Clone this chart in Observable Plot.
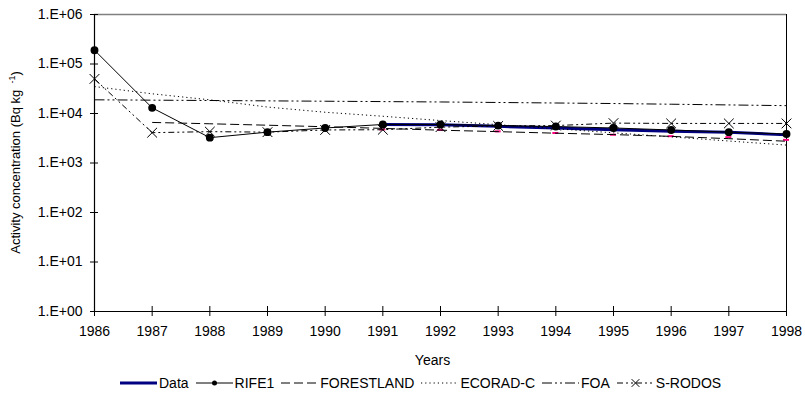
<!DOCTYPE html>
<html>
<head>
<meta charset="utf-8">
<script src="https://cdn.jsdelivr.net/npm/d3@7"></script>
<script src="https://cdn.jsdelivr.net/npm/@observablehq/plot@0.6"></script>
<style>
  html, body { margin: 0; padding: 0; background: #fff; }
  #chart { width: 805px; }
  #legend {
    display: flex; align-items: center; height: 22px; padding-left: 120px;
    font-family: "Liberation Sans", Arial, sans-serif; font-size: 14px; color: #000;
  }
  #legend .item { display: flex; align-items: center; }
  #legend span { margin: 0 7px 0 2px; white-space: nowrap; }
</style>
</head>
<body>
<div id="chart"></div>
<div id="legend"></div>
<script>
// Years on the x axis
const years = [1986, 1987, 1988, 1989, 1990, 1991, 1992, 1993, 1994, 1995, 1996, 1997, 1998];

// Activity concentration (Bq/kg), one value per year (null = no value)
const data       = [null, null, null, null, null, 6000, 5900, 5500, 5100, 4700, 4400, 4200, 3700];
const rife1      = [190000, 13000, 3250, 4200, 5100, 6000, 6000, 5700, 5450, 5100, 4650, 4200, 3850];
const forestland = [null, 6600, 6200, 5800, 5400, 5000, 4600, 4300, 4000, 3750, 3450, 3100, 2750];
const ecoradC    = [35000, 25000, 18900, 13500, 10600, 8800, 7200, 5950, 4920, 4070, 3370, 2780, 2300];
const foa        = [18900, 18600, 18300, 18000, 17700, 17400, 17100, 16700, 16300, 15900, 15400, 14900, 14400];
const sRodos     = [50000, 4100, 4300, 4200, 4650, 4700, 5300, 5600, 5700, 6400, 6300, 6300, 6300];

// Axis ticks
const yTicks = [1, 10, 100, 1000, 10000, 100000, 1000000];
const yTickLabels = ["1.E+00", "1.E+01", "1.E+02", "1.E+03", "1.E+04", "1.E+05", "1.E+06"];

const rows = (vals) => years.map((year, i) => ({year, value: vals[i]})).filter(d => d.value != null);

// Series styles shared by the chart and the legend
const series = [
  {name: "Data",       rows: rows(data),       stroke: "#000080", width: 3, dash: null},
  {name: "RIFE1",      rows: rows(rife1),      stroke: "#000", width: 1, dash: null, marker: "circle"},
  {name: "FORESTLAND", rows: rows(forestland), stroke: "#000", width: 1, dash: "9,4"},
  {name: "ECORAD-C",   rows: rows(ecoradC),    stroke: "#000", width: 1, dash: "1.2,3"},
  {name: "FOA",        rows: rows(foa),        stroke: "#000", width: 1, dash: "10,3,2,3,2,3"},
  {name: "S-RODOS",    rows: rows(sRodos),     stroke: "#000", width: 1, dash: "6,3,2,3,2,3", marker: "times"}
];

const lineMarks = series.map(s => Plot.line(s.rows, {
  x: "year", y: "value", stroke: s.stroke, strokeWidth: s.width,
  strokeDasharray: s.dash, strokeLinecap: s.dash ? "butt" : "round", strokeLinejoin: "round"
}));

const chart = Plot.plot({
  width: 805,
  height: 372,
  marginLeft: 94,
  marginRight: 19,
  marginTop: 14,
  marginBottom: 61,
  x: {domain: [1986, 1998]},
  y: {type: "log", domain: [1, 1e6]},
  style: {fontFamily: "'Liberation Sans', Arial, sans-serif", fontSize: "14px", color: "#000", background: "#fff", overflow: "visible"},
  marks: [
    // plot area border
    Plot.ruleY([1e6], {stroke: "#808080", strokeWidth: 1.5}),
    Plot.ruleX([1998], {stroke: "#000"}),
    Plot.ruleX([1986], {stroke: "#000", strokeWidth: 1.2}),
    Plot.ruleY([1], {stroke: "#000", strokeWidth: 1.2}),
    // tick marks crossing the axes
    Plot.ruleY(yTicks, {y: d => d, x1: 1986, x2: 1986, insetLeft: -4, insetRight: -4, stroke: "#000"}),
    Plot.ruleX(years, {x: d => d, y1: 1, y2: 1, insetTop: -5, insetBottom: -5, stroke: "#000"}),
    Plot.axisY(yTicks, {tickSize: 0, tickPadding: 12, tickFormat: d => yTickLabels[yTicks.indexOf(d)], label: null}),
    Plot.axisX(years, {tickSize: 0, tickPadding: 15, tickFormat: d => String(d), label: null}),
    Plot.text(["Years"], {frameAnchor: "bottom", dx: -8, dy: 53}),
    lineMarks[0],
    // Data markers
    Plot.ruleY(series[0].rows, {y: "value", x1: "year", x2: "year", insetLeft: -3, insetRight: -3, dy: 5, stroke: "#ff0080", strokeWidth: 2}),
    ...lineMarks.slice(1),
    Plot.dot(series[1].rows, {x: "year", y: "value", r: 3.2, fill: "#000", stroke: "#000"}),
    Plot.dot(series[5].rows, {x: "year", y: "value", symbol: "times", r: 4.5, stroke: "#000", strokeWidth: 1})
  ]
});
document.getElementById("chart").append(chart);

// y-axis title with superscript unit exponent
const ylab = d3.select(chart).append("text")
  .attr("transform", "translate(20,162.5) rotate(-90)")
  .attr("text-anchor", "middle")
  .attr("font-size", "13px")
  .attr("fill", "#000");
ylab.append("tspan").text("Activity concentration (Bq kg ");
ylab.append("tspan").attr("font-size", "9px").attr("dy", "-0.55em").text(" -1");
ylab.append("tspan").attr("dy", "0.4em").text(")");

// Legend
const legend = d3.select("#legend");
for (const s of series) {
  const item = legend.append("div").attr("class", "item");
  const sw = item.append("svg").attr("width", 37).attr("height", 12);
  sw.append("line").attr("x1", 0).attr("x2", 37).attr("y1", 6).attr("y2", 6)
    .attr("stroke", s.stroke).attr("stroke-width", s.width)
    .attr("stroke-dasharray", s.dash).attr("stroke-linecap", "butt");
  if (s.marker === "circle") sw.append("circle").attr("cx", 18.5).attr("cy", 6).attr("r", 2.5).attr("fill", "#000");
  if (s.marker === "times") sw.append("path").attr("d", d3.symbol(d3.symbolTimes, 40)()).attr("transform", "translate(18.5,6)").attr("stroke", "#000").attr("fill", "none");
  item.append("span").text(s.name);
}
</script>
</body>
</html>
